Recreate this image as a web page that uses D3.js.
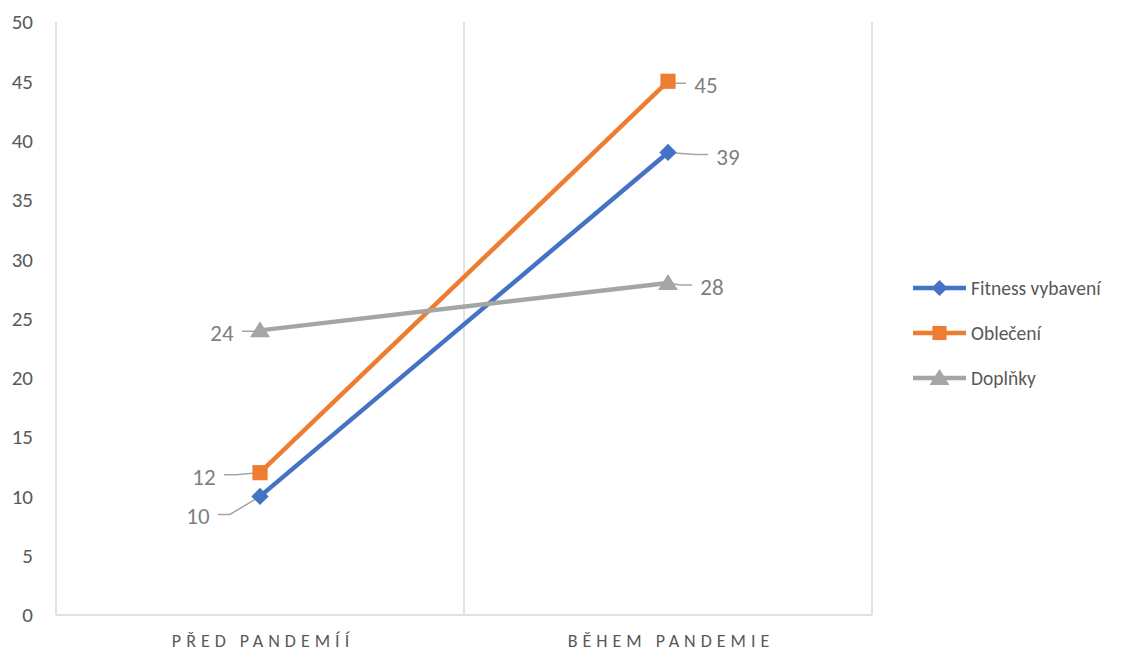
<!DOCTYPE html>
<html>
<head>
<meta charset="utf-8">
<script src="https://cdn.jsdelivr.net/npm/d3@7"></script>
<style>
  body { margin: 0; background: #fff; }
  text { font-family: Carlito, Lato, sans-serif; }
</style>
</head>
<body>
<div id="container"></div>
<script>
// Data
const categories = ['PŘED PANDEMÍÍ', 'BĚHEM PANDEMIE'];
const seriesNames = ['Fitness vybavení', 'Oblečení', 'Doplňky'];
const fitnessValues = [10, 39];
const obleceniValues = [12, 45];
const doplnkyValues = [24, 28];
const yTicks = [0, 5, 10, 15, 20, 25, 30, 35, 40, 45, 50];

const colors = ['#4472C4', '#ED7D31', '#A5A5A5'];

const series = [
  { name: seriesNames[0], values: fitnessValues },
  { name: seriesNames[1], values: obleceniValues },
  { name: seriesNames[2], values: doplnkyValues }
];

// label offsets (dx, dy) from point, per series / category - layout only
const labelOffsets = [
  [[-62, 20], [60, 4]],
  [[-56, 4], [38, 4]],
  [[-38, 3], [44, 4]]
];

const width = 1136, height = 651;
const padding = { top: 22, left: 56 };
const chartArea = {
  width: 872 - padding.left,
  height: 615 - padding.top
};

const svg = d3.select('#container').append('svg')
  .attr('width', width)
  .attr('height', height);

const xScale = d3.scaleBand()
  .domain(categories)
  .range([padding.left, padding.left + chartArea.width]);

const yScale = d3.scaleLinear()
  .domain([0, 50])
  .range([padding.top + chartArea.height, padding.top]);

// marker shapes: diamond is a rotated square
function marker(si, size) {
  if (si === 0) return { d: d3.symbol().type(d3.symbolSquare).size(size)(), rot: 45 };
  if (si === 1) return { d: d3.symbol().type(d3.symbolSquare).size(size)(), rot: 0 };
  return { d: 'M0,-9L10,7L-10,7Z', rot: 0 };
}

// vertical gridlines at category boundaries
const bounds = categories.map(c => xScale(c)).concat([xScale.range()[1]]);
svg.selectAll('.vgrid')
  .data(bounds)
  .enter()
  .append('line')
  .attr('class', 'vgrid')
  .attr('x1', d => d).attr('x2', d => d)
  .attr('y1', yScale(50)).attr('y2', yScale(0))
  .attr('stroke', '#D9D9D9')
  .attr('stroke-width', 1.5);

// x axis line
svg.append('line')
  .attr('x1', xScale.range()[0]).attr('x2', xScale.range()[1])
  .attr('y1', yScale(0)).attr('y2', yScale(0))
  .attr('stroke', '#D9D9D9')
  .attr('stroke-width', 1.5);

// y tick labels
svg.selectAll('.ytick')
  .data(yTicks)
  .enter()
  .append('text')
  .attr('class', 'ytick')
  .attr('x', 33)
  .attr('y', d => yScale(d))
  .attr('dy', '0.35em')
  .attr('text-anchor', 'end')
  .attr('fill', '#595959')
  .attr('font-size', 21)
  .text(d => d);

// x labels
svg.selectAll('.xlab')
  .data(categories)
  .enter()
  .append('text')
  .attr('class', 'xlab')
  .attr('x', d => xScale(d) + xScale.bandwidth() / 2 + 3)
  .attr('y', 647)
  .attr('text-anchor', 'middle')
  .attr('fill', '#595959')
  .attr('font-size', 18)
  .attr('letter-spacing', '5px')
  .text(d => d);

const line = d3.line()
  .x((d, i) => xScale(categories[i]) + xScale.bandwidth() / 2)
  .y(d => yScale(d));

const px = i => xScale(categories[i]) + xScale.bandwidth() / 2;

// leader lines + labels
series.forEach((s, si) => {
  s.values.forEach((v, i) => {
    const [dx, dy] = labelOffsets[si][i];
    const x0 = px(i), y0 = yScale(v);
    const lx = x0 + dx, ly = y0 + dy;
    const left = dx < 0;
    const edge = left ? lx + 20 : lx - 20;
    const knee = left ? edge + 12 : edge - 12;
    svg.append('path')
      .attr('d', `M${edge},${ly - 2}L${knee},${ly - 2}L${x0},${y0}`)
      .attr('fill', 'none')
      .attr('stroke', '#A5A5A5')
      .attr('stroke-width', 1.5);
    svg.append('text')
      .attr('x', lx)
      .attr('y', ly)
      .attr('dy', '0.35em')
      .attr('text-anchor', 'middle')
      .attr('fill', '#7F7F7F')
      .attr('font-size', 23)
      .text(v);
  });
});

// lines and markers
series.forEach((s, si) => {
  svg.append('path')
    .datum(s.values)
    .attr('d', line)
    .attr('fill', 'none')
    .attr('stroke', colors[si])
    .attr('stroke-width', 4.5)
    .attr('stroke-linejoin', 'round');
  svg.selectAll('.m' + si)
    .data(s.values)
    .enter()
    .append('path')
    .attr('class', 'm' + si)
    .attr('transform', (d, i) => `translate(${px(i)},${yScale(d)}) rotate(${marker(si, 1).rot})`)
    .attr('d', marker(si, si === 0 ? 150 : 230).d)
    .attr('fill', colors[si]);
});

// legend
const legend = svg.selectAll('.legend')
  .data(series)
  .enter()
  .append('g')
  .attr('class', 'legend')
  .attr('transform', (d, i) => `translate(913,${288 + i * 45})`);

legend.append('line')
  .attr('x1', 0).attr('x2', 53)
  .attr('stroke', (d, i) => colors[i])
  .attr('stroke-width', 4.5);

legend.append('path')
  .attr('transform', (d, i) => `translate(26.5,0) rotate(${marker(i, 1).rot})`)
  .attr('d', (d, i) => marker(i, i === 0 ? 130 : 200).d)
  .attr('fill', (d, i) => colors[i]);

legend.append('text')
  .attr('x', 58)
  .attr('dy', '0.35em')
  .attr('fill', '#595959')
  .attr('font-size', 19.5)
  .text(d => d.name);
</script>
</body>
</html>
